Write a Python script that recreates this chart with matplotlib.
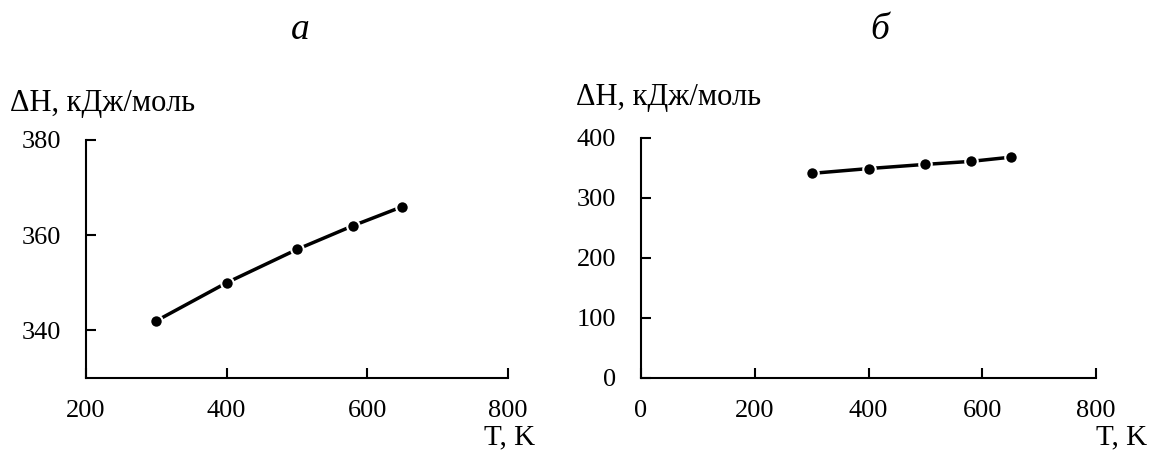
import matplotlib.pyplot as plt

plt.rcParams["font.family"] = ["Liberation Serif", "DejaVu Serif"]

T = [300, 400, 500, 580, 650]
dH_a = [342, 350, 357, 362, 366]
dH_b = [341, 349, 356, 361, 368]

fig = plt.figure(figsize=(11.49, 4.53), dpi=100)
ax1 = fig.add_axes([0.0748, 0.1656, 0.3672, 0.5254])
ax2 = fig.add_axes([0.5579, 0.1656, 0.3960, 0.5298])


def style(ax, x, y, xlim, ylim, xticks, yticks):
    ax.plot(x, y, "-", color="black", lw=2.5)
    ax.plot(x, y, "o", color="black", ms=9, mec="white", mew=1.5)
    ax.set_xlim(*xlim)
    ax.set_ylim(*ylim)
    ax.set_xticks(xticks)
    ax.set_yticks(yticks)
    for s in ["top", "right"]:
        ax.spines[s].set_visible(False)
    for s in ["left", "bottom"]:
        ax.spines[s].set_linewidth(1.5)
    ax.tick_params(direction="in", length=7, width=1.5, labelsize=19)
    ax.tick_params(axis="x", pad=16)
    ax.tick_params(axis="y", pad=18)


style(ax1, T, dH_a, (200, 800), (330, 380), [200, 400, 600, 800], [340, 360, 380])
style(ax2, T, dH_b, (0, 800), (0, 400), [0, 200, 400, 600, 800], [0, 100, 200, 300, 400])

fig.text(10 / 1149, 1 - 103 / 453, "ΔH, кДж/моль", fontsize=22, ha="left", va="center")
fig.text(576 / 1149, 1 - 97 / 453, "ΔH, кДж/моль", fontsize=22, ha="left", va="center")
fig.text(535 / 1149, 1 - 437 / 453, "T, K", fontsize=21, ha="right", va="center")
fig.text(1147 / 1149, 1 - 437 / 453, "T, K", fontsize=21, ha="right", va="center")
fig.text(300 / 1149, 1 - 30 / 453, "а", fontsize=27, style="italic", ha="center", va="center")
fig.text(880 / 1149, 1 - 30 / 453, "б", fontsize=27, style="italic", ha="center", va="center")

fig.savefig("out.png", dpi=100)
